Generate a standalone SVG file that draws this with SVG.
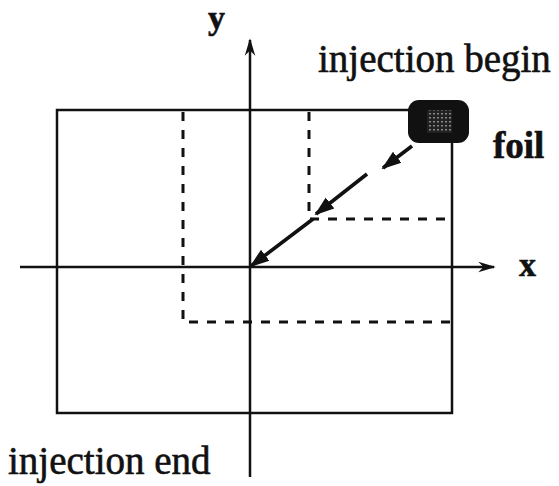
<svg xmlns="http://www.w3.org/2000/svg" width="559" height="486" viewBox="0 0 559 486">
<style>
.t{font-family:"Liberation Serif","Times New Roman",serif;fill:#111;stroke:#111;stroke-width:0.6}
.ln{stroke:#111;fill:none;stroke-width:2.5}
.ds{stroke:#111;fill:none;stroke-width:3;stroke-dasharray:9 9}
.ar{stroke:#111;fill:none;stroke-width:3.6}
</style>
<defs>
<marker id="ah" viewBox="0 0 10 10" refX="9" refY="5" markerWidth="5.5" markerHeight="5.5" orient="auto" markerUnits="strokeWidth"><path d="M0,1.5 L10,5 L0,8.5 z" fill="#111"/></marker>
<marker id="ax" viewBox="0 0 10 10" refX="9" refY="5" markerWidth="7" markerHeight="7" orient="auto" markerUnits="strokeWidth"><path d="M0,2 L10,5 L0,8 L3,5 z" fill="#111"/></marker>
<pattern id="dots" width="4" height="4" patternUnits="userSpaceOnUse"><rect width="4" height="4" fill="#222"/><rect x="1" y="1" width="2" height="1.5" fill="#888"/></pattern>
</defs>
<g id="axes">
<line class="ln" x1="20" y1="267" x2="494" y2="267" marker-end="url(#ax)"/>
<line class="ln" x1="250" y1="477" x2="250" y2="40" marker-end="url(#ax)"/>
</g>
<g id="outer"><rect class="ln" x="57" y="110" width="395" height="303"/></g>
<g id="dashed">
<path class="ds" d="M183,112 V322 H452"/>
<path class="ds" d="M309,112 V219 H452"/>
</g>
<g id="foil">
<rect x="408" y="100" width="61" height="43" rx="11" fill="#111"/>
<rect x="427" y="110" width="25" height="23" fill="url(#dots)"/>
</g>
<g id="connectors">
<line class="ar" x1="313" y1="219" x2="251" y2="266" marker-end="url(#ah)"/>
<line class="ar" x1="412" y1="146" x2="383" y2="168" marker-end="url(#ah)"/>
<line class="ar" x1="367" y1="174" x2="316" y2="214" marker-end="url(#ah)"/>
</g>
<g id="labels">
<text class="t" x="208" y="29" font-size="34" font-weight="bold">y</text>
<text class="t" x="519" y="276" font-size="34" font-weight="bold">x</text>
<text class="t" x="318" y="72" font-size="39">injection begin</text>
<text class="t" x="493" y="158" font-size="37" font-weight="bold">foil</text>
<text class="t" x="8" y="474" font-size="39">injection end</text>
</g>
</svg>
